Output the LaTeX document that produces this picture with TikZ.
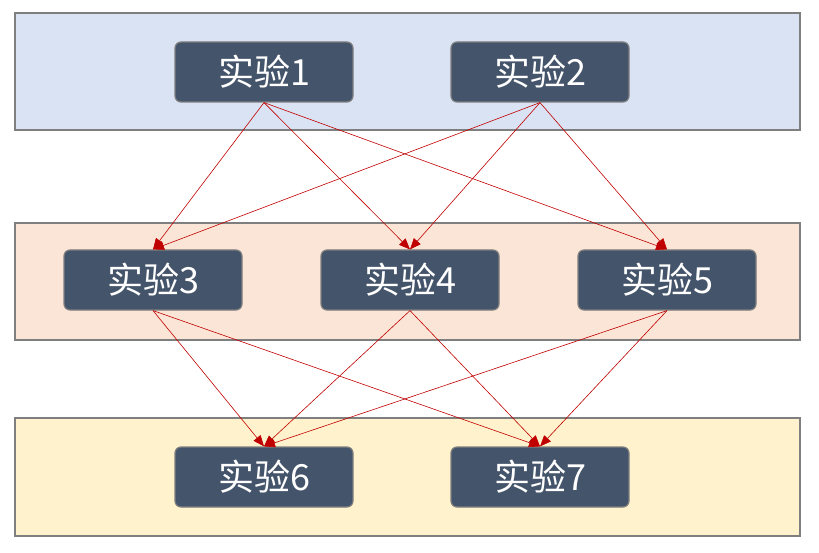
\documentclass[tikz,border=0pt]{standalone}
\usepackage{fontspec}
\setmainfont{Noto Sans CJK SC}
\usetikzlibrary{arrows.meta}
\definecolor{nodefill}{HTML}{44546A}
\definecolor{edgegray}{HTML}{7F7F7F}
\definecolor{panelA}{HTML}{DAE3F3}
\definecolor{panelB}{HTML}{FBE5D6}
\definecolor{panelC}{HTML}{FFF2CC}
\definecolor{arrowred}{HTML}{C00000}
\begin{document}
\begin{tikzpicture}[x=1pt,y=-1pt,
  panel/.style={draw=edgegray,line width=2pt},
  expbox/.style={draw=edgegray,line width=1.2pt,fill=nodefill,rounded corners=6pt,
    minimum width=178pt,minimum height=60pt,inner sep=0pt,text=white,
    font=\fontsize{36}{36}\selectfont},
  link/.style={draw=arrowred,line width=0.6pt,-{Triangle[length=11pt,width=9pt]}}]
\useasboundingbox (0,0) rectangle (819,553);
\path[panel,fill=panelA] (15,13) rectangle (800,130);
\path[panel,fill=panelB] (15,223) rectangle (800,340);
\path[panel,fill=panelC] (15,418) rectangle (800,536);
\node[expbox] (e1) at (264,72) {实验1};
\node[expbox] (e2) at (540,72) {实验2};
\node[expbox] (e3) at (153,280) {实验3};
\node[expbox] (e4) at (410,280) {实验4};
\node[expbox] (e5) at (667,280) {实验5};
\node[expbox] (e6) at (264,477) {实验6};
\node[expbox] (e7) at (540,477) {实验7};
\foreach \s/\t in {e1/e3,e1/e4,e1/e5,e2/e3,e2/e4,e2/e5,e3/e6,e3/e7,e4/e6,e4/e7,e5/e6,e5/e7}
  \draw[link] (\s.south) -- (\t.north);
\end{tikzpicture}
\end{document}
